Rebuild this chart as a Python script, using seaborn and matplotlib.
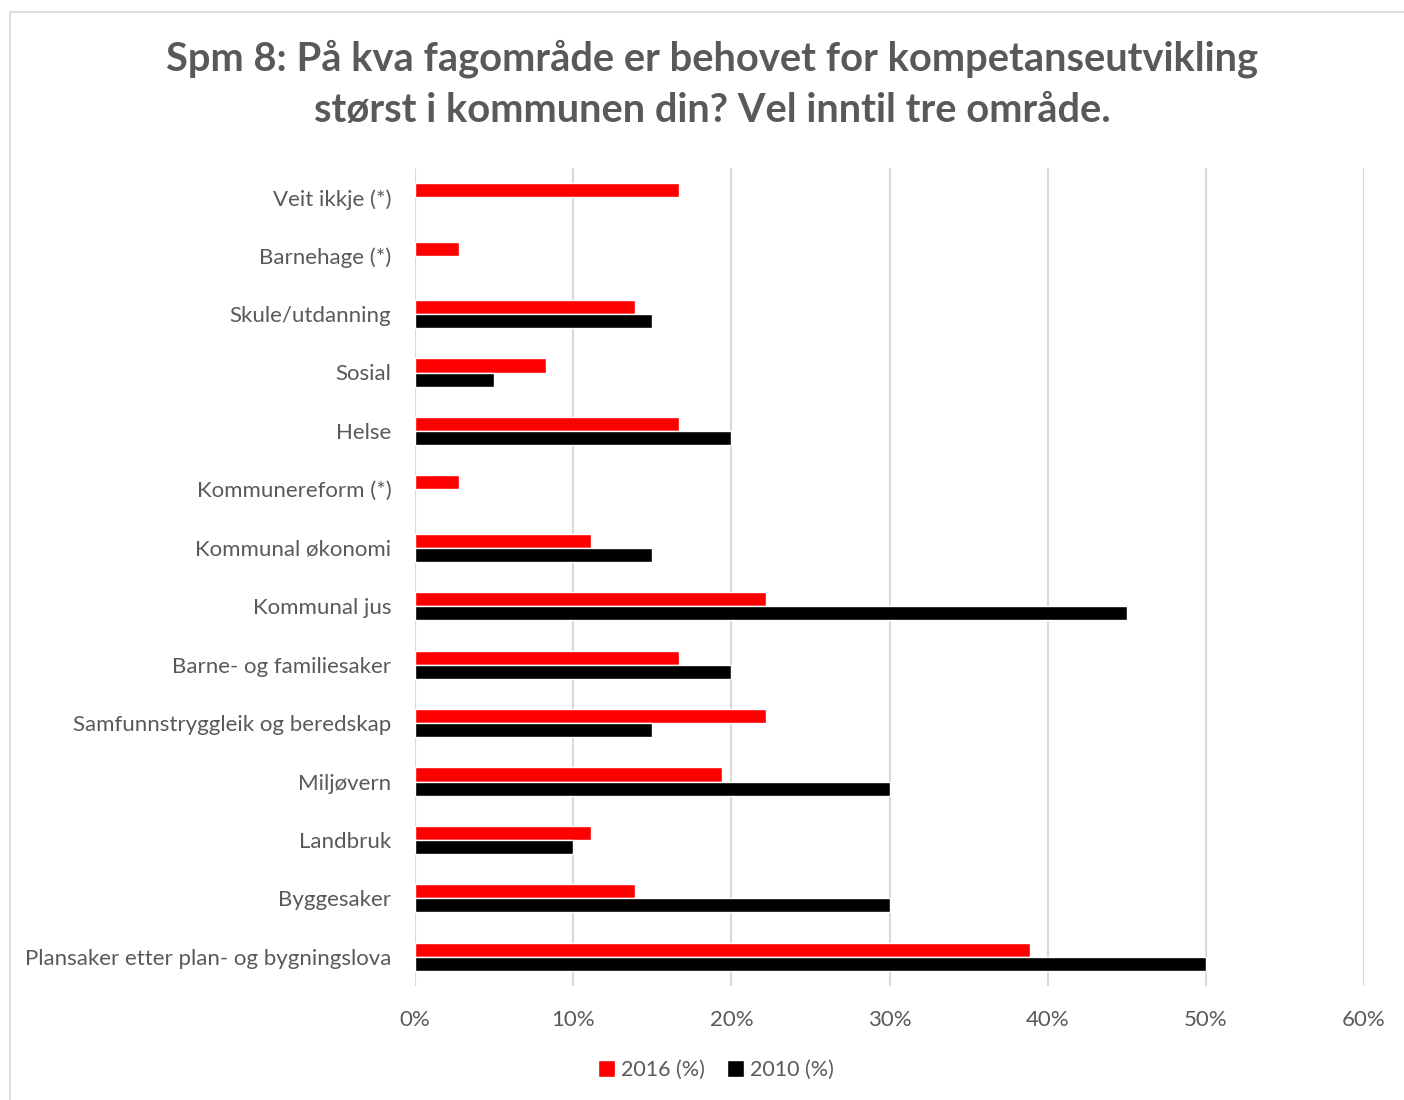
import numpy as np
import pandas as pd
import seaborn as sns
import matplotlib.pyplot as plt
from matplotlib.patches import Rectangle
from matplotlib.ticker import PercentFormatter

categories = ['Veit ikkje (*)', 'Barnehage (*)', 'Skule/utdanning', 'Sosial', 'Helse',
              'Kommunereform (*)', 'Kommunal økonomi', 'Kommunal jus',
              'Barne- og familiesaker', 'Samfunnstryggleik og beredskap', 'Miljøvern',
              'Landbruk', 'Byggesaker', 'Plansaker etter plan- og bygningslova']
v2016 = [16.7, 2.8, 13.9, 8.3, 16.7, 2.8, 11.1, 22.2, 16.7, 22.2, 19.4, 11.1, 13.9, 38.9]
v2010 = [np.nan, np.nan, 15, 5, 20, np.nan, 15, 45, 20, 15, 30, 10, 30, 50]
series = ['2016 (%)', '2010 (%)']

df = pd.DataFrame({'cat': categories * 2,
                   'serie': [series[0]] * len(categories) + [series[1]] * len(categories),
                   'val': [v / 100 for v in v2016 + v2010]})

sns.set_style('white')
plt.rcParams['font.family'] = ['Lato', 'DejaVu Sans']
grey = '#595959'

fig = plt.figure(figsize=(14.04, 11), dpi=100)
# chart frame (cut off at right and bottom like the reference)
fig.patches.append(Rectangle((10 / 1404, -0.1), 1.2, 1 - 12 / 1100 + 0.1, transform=fig.transFigure,
                             fill=False, edgecolor='#d9d9d9', linewidth=1.2))
ax = fig.add_axes([415 / 1404, 1 - 986 / 1100, (1364 - 415) / 1404, (986 - 168) / 1100])

sns.barplot(data=df, x='val', y='cat', hue='serie', order=categories, hue_order=series,
            palette=['#ff0000', '#000000'], saturation=1, width=0.48, ax=ax, legend=True)

ax.set_xlim(0, 0.6)
ax.set_xticks(np.arange(0, 0.61, 0.1))
ax.xaxis.set_major_formatter(PercentFormatter(1.0, decimals=0))
ax.grid(axis='x', color='#d9d9d9', linewidth=1.5)
ax.set_axisbelow(True)
for s in ax.spines.values():
    s.set_visible(False)
ax.set_xlabel('')
ax.set_ylabel('')
ax.tick_params(axis='both', length=0, labelsize=16, colors=grey)
ax.tick_params(axis='y', pad=17)
ax.tick_params(axis='x', pad=17)

leg = ax.legend(loc='center', bbox_to_anchor=(716 / 1404, 1 - 1070 / 1100),
                bbox_transform=fig.transFigure, ncol=2, frameon=False, fontsize=15.5,
                handlelength=0.8, handleheight=0.8, handletextpad=0.3, columnspacing=1.0)
for t in leg.get_texts():
    t.set_color(grey)

fig.text(712 / 1404, 1 - 84 / 1100,
         'Spm 8: På kva fagområde er behovet for kompetanseutvikling\nstørst i kommunen din? Vel inntil tre område.',
         ha='center', va='center', fontsize=28.7, fontweight='bold', color=grey, linespacing=1.45)

fig.savefig('out.png', dpi=100)
